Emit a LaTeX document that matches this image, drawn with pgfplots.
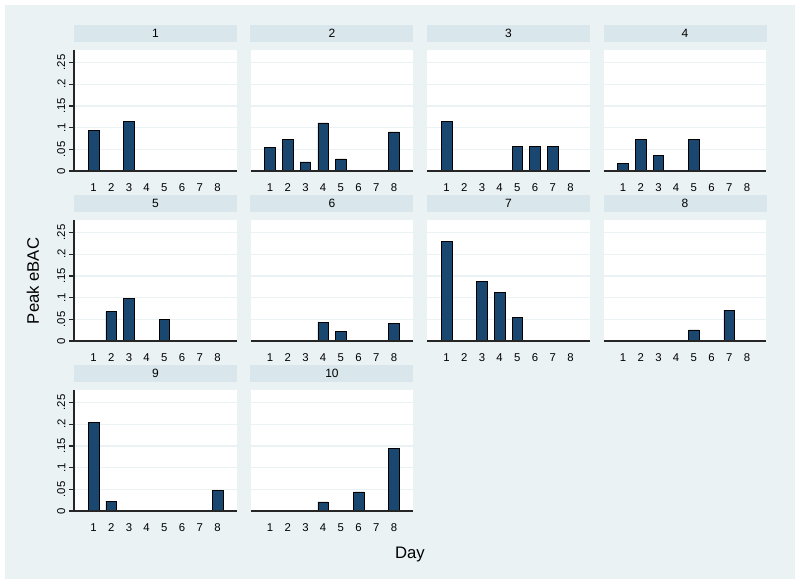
\documentclass[border=0pt]{standalone}
\usepackage{pgfplots}
\pgfplotsset{compat=1.18}
\usetikzlibrary{calc}
\usepackage{fontspec}
\setmainfont{Liberation Sans}
\definecolor{bgc}{HTML}{EAF2F3}
\definecolor{stripc}{HTML}{D9E6EB}
\definecolor{barc}{HTML}{1A476F}
\definecolor{gridc}{HTML}{EAF2F3}

\pgfplotsset{
  panel/.style={
    anchor=south west, scale only axis,
    width=122.25pt, height=90.75pt,
    xmin=-0.1, xmax=9.1, ymin=0, ymax=0.279,
    axis background/.style={fill=white},
    axis line style={draw=none},
    xtick={1,2,3,4,5,6,7,8},
    ytick={0,0.05,0.1,0.15,0.2,0.25},
    x tick style={draw=none},
    y tick style={draw=none},
    ymajorgrids, grid style={gridc, line width=1pt},
    /pgf/number format/assume math mode=true,
    tick label style={font=\fontsize{8.5}{10}\selectfont},
    xticklabel style={yshift=-2pt},
    yticklabel style={xshift=-3pt},
    ybar, bar width=0.6,
    cycle list={{fill=barc, draw=barc!75!black, line width=0.4pt}},
    title style={at={(0.5,1)}, anchor=south, yshift=0pt, fill=stripc,
      minimum width=122.25pt, minimum height=12.75pt, inner sep=0pt, outer sep=0pt,
      font=\fontsize{9}{10}\selectfont},
  },
  leftpanel/.style={
    yticklabels={0,.05,.1,.15,.2,.25},
    yticklabel style={rotate=90, anchor=south},
  },
  otherpanel/.style={
    yticklabels={},
  },
}

\begin{document}
\begin{tikzpicture}
\useasboundingbox[fill=white] (0pt,0pt) rectangle (600pt,438pt);
\fill[bgc] (3.75pt,3.75pt) rectangle (596.25pt,434.25pt);

% Row 1
\begin{axis}[panel, leftpanel, name=p1, at={(55.5pt,309.75pt)}, title={1}]
\addplot coordinates {(1,0.094) (3,0.114)};
\end{axis}
\begin{axis}[panel, otherpanel, name=p2, at={(187.875pt,309.75pt)}, title={2}]
\addplot coordinates {(1,0.054) (2,0.073) (3,0.021) (4,0.111) (5,0.028) (8,0.090)};
\end{axis}
\begin{axis}[panel, otherpanel, name=p3, at={(320.25pt,309.75pt)}, title={3}]
\addplot coordinates {(1,0.1135) (5,0.0575) (6,0.0575) (7,0.0575)};
\end{axis}
\begin{axis}[panel, otherpanel, name=p4, at={(452.625pt,309.75pt)}, title={4}]
\addplot coordinates {(1,0.018) (2,0.073) (3,0.036) (5,0.073)};
\end{axis}

% Row 2
\begin{axis}[panel, leftpanel, name=p5, at={(55.5pt,182.25pt)}, title={5}]
\addplot coordinates {(2,0.0675) (3,0.098) (5,0.050)};
\end{axis}
\begin{axis}[panel, otherpanel, name=p6, at={(187.875pt,182.25pt)}, title={6}]
\addplot coordinates {(4,0.0435) (5,0.0225) (8,0.041)};
\end{axis}
\begin{axis}[panel, otherpanel, name=p7, at={(320.25pt,182.25pt)}, title={7}]
\addplot coordinates {(1,0.230) (3,0.137) (4,0.1125) (5,0.055)};
\end{axis}
\begin{axis}[panel, otherpanel, name=p8, at={(452.625pt,182.25pt)}, title={8}]
\addplot coordinates {(5,0.0256) (7,0.0707)};
\end{axis}

% Row 3
\begin{axis}[panel, leftpanel, name=p9, at={(55.5pt,54.75pt)}, title={9}]
\addplot coordinates {(1,0.204) (2,0.023) (8,0.047)};
\end{axis}
\begin{axis}[panel, otherpanel, name=p10, at={(187.875pt,54.75pt)}, title={10}]
\addplot coordinates {(4,0.021) (6,0.044) (8,0.1437)};
\end{axis}

% axis lines (frame decoration)
\foreach \p in {p1,p2,p3,p4,p5,p6,p7,p8,p9,p10}
  \draw[black!85, line width=1.4pt] (\p.south west) -- (\p.south east);
\foreach \p in {p1,p5,p9} {
  \draw[black!85, line width=1.4pt] ($(\p.south west)+(0,-0.7pt)$) -- (\p.north west);
  \foreach \k in {0,1,2,3,4,5}
    \draw[black!85, line width=1pt] ($(\p.south west)!{\k*0.25/0.279/5}!(\p.north west)$) -- ++(-3.5pt,0pt);
}

\node[font=\fontsize{12.5}{14}\selectfont] at (307.5pt,21.75pt) {Day};
\node[font=\fontsize{12.5}{14}\selectfont, rotate=90] at (24.75pt,227.25pt) {Peak eBAC};
\end{tikzpicture}
\end{document}
